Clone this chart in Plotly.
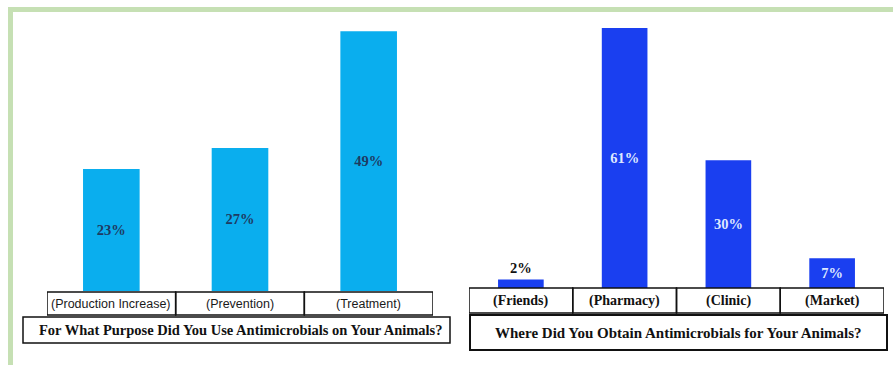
import plotly.graph_objects as go

W, H = 893, 365

purpose_cats = ["(Production Increase)", "(Prevention)", "(Treatment)"]
purpose_vals = [23, 27, 49]
purpose_text = ["23%", "27%", "49%"]

source_cats = ["(Friends)", "(Pharmacy)", "(Clinic)", "(Market)"]
source_vals = [2, 61, 30, 7]
source_text = ["2%", "61%", "30%", "7%"]

title_left = "For What Purpose Did You Use Antimicrobials on Your Animals?"
title_right = "Where Did You Obtain Antimicrobials for Your Animals?"

def px(x):
    return x / W

def py(y):
    return 1 - y / H

fig = go.Figure()

fig.add_trace(go.Bar(
    x=list(range(len(purpose_cats))), y=purpose_vals, text=purpose_text,
    texttemplate="<b>%{text}</b>",
    marker=dict(color="#0aaeee", line=dict(width=0)),
    width=0.44, textposition="inside", insidetextanchor="middle",
    textfont=dict(family="Liberation Serif", size=14.5, color="#1f3a62"),
    constraintext="none", xaxis="x", yaxis="y", showlegend=False,
    hoverinfo="skip", cliponaxis=False,
))

fig.add_trace(go.Bar(
    x=list(range(len(source_cats))), y=source_vals, text=source_text,
    texttemplate="<b>%{text}</b>",
    marker=dict(color="#1a3ff0", line=dict(width=0)),
    width=0.44, textposition=["outside", "inside", "inside", "inside"],
    insidetextanchor="middle",
    insidetextfont=dict(family="Liberation Serif", size=14.5, color="#dfe8ff"),
    outsidetextfont=dict(family="Liberation Serif", size=14.5, color="#111111"),
    textfont=dict(family="Liberation Serif", size=14.5),
    constraintext="none", xaxis="x2", yaxis="y2", showlegend=False,
    hoverinfo="skip", cliponaxis=False,
))

shapes = []
annotations = []

# green frame
shapes.append(dict(type="rect", xref="paper", yref="paper", x0=px(8), x1=px(893),
                   y0=py(12), y1=py(7), fillcolor="#c6e0b4", line=dict(width=0), layer="below"))
shapes.append(dict(type="rect", xref="paper", yref="paper", x0=px(8), x1=px(13),
                   y0=py(365), y1=py(7), fillcolor="#c6e0b4", line=dict(width=0), layer="below"))

# left category boxes
for i, c in enumerate(purpose_cats):
    shapes.append(dict(type="rect", xref="x", yref="paper", x0=i - 0.5, x1=i + 0.5,
                       y0=py(315), y1=py(292), line=dict(color="#111111", width=1.5)))
    annotations.append(dict(x=i, y=py(303.5), xref="x", yref="paper", text=c, showarrow=False,
                            xanchor="center", yanchor="middle",
                            font=dict(family="Liberation Sans", size=12.5, color="#1a1a1a")))

# right category boxes
for i, c in enumerate(source_cats):
    shapes.append(dict(type="rect", xref="x2", yref="paper", x0=i - 0.5, x1=i + 0.5,
                       y0=py(313), y1=py(288), line=dict(color="#111111", width=1.5)))
    annotations.append(dict(x=i, y=py(300.5), xref="x2", yref="paper", text="<b>%s</b>" % c,
                            showarrow=False, xanchor="center", yanchor="middle",
                            font=dict(family="Liberation Serif", size=14, color="#111111")))

# title boxes
shapes.append(dict(type="rect", xref="paper", yref="paper", x0=px(23), x1=px(450),
                   y0=py(343), y1=py(317), line=dict(color="#111111", width=1.5)))
annotations.append(dict(x=px(241), y=py(330), xref="paper", yref="paper",
                        text="<b>%s</b>" % title_left, showarrow=False,
                        xanchor="center", yanchor="middle",
                        font=dict(family="Liberation Serif", size=14.5, color="#111111")))
shapes.append(dict(type="rect", xref="paper", yref="paper", x0=px(470), x1=px(887),
                   y0=py(350), y1=py(315), line=dict(color="#111111", width=2)))
annotations.append(dict(x=px(678), y=py(333), xref="paper", yref="paper",
                        text="<b>%s</b>" % title_right, showarrow=False,
                        xanchor="center", yanchor="middle",
                        font=dict(family="Liberation Serif", size=15, color="#111111")))

ax_common = dict(showgrid=False, zeroline=False, showline=False, showticklabels=False, ticks="",
                 fixedrange=True)

fig.update_layout(
    width=W, height=H,
    margin=dict(l=0, r=0, t=0, b=0),
    paper_bgcolor="white", plot_bgcolor="white",
    xaxis=dict(domain=[px(47), px(433)], range=[-0.5, 2.5], anchor="y", **ax_common),
    yaxis=dict(domain=[py(291), py(26)], range=[0, 50], anchor="x", **ax_common),
    xaxis2=dict(domain=[px(469), px(884)], range=[-0.5, 3.5], anchor="y2", **ax_common),
    yaxis2=dict(domain=[py(288), py(11)], range=[0, 65], anchor="x2", **ax_common),
    shapes=shapes,
    annotations=annotations,
)

fig.write_html("out.html", config={"displayModeBar": False},
               post_script="document.body.style.margin='0';document.body.style.overflow='hidden';")
